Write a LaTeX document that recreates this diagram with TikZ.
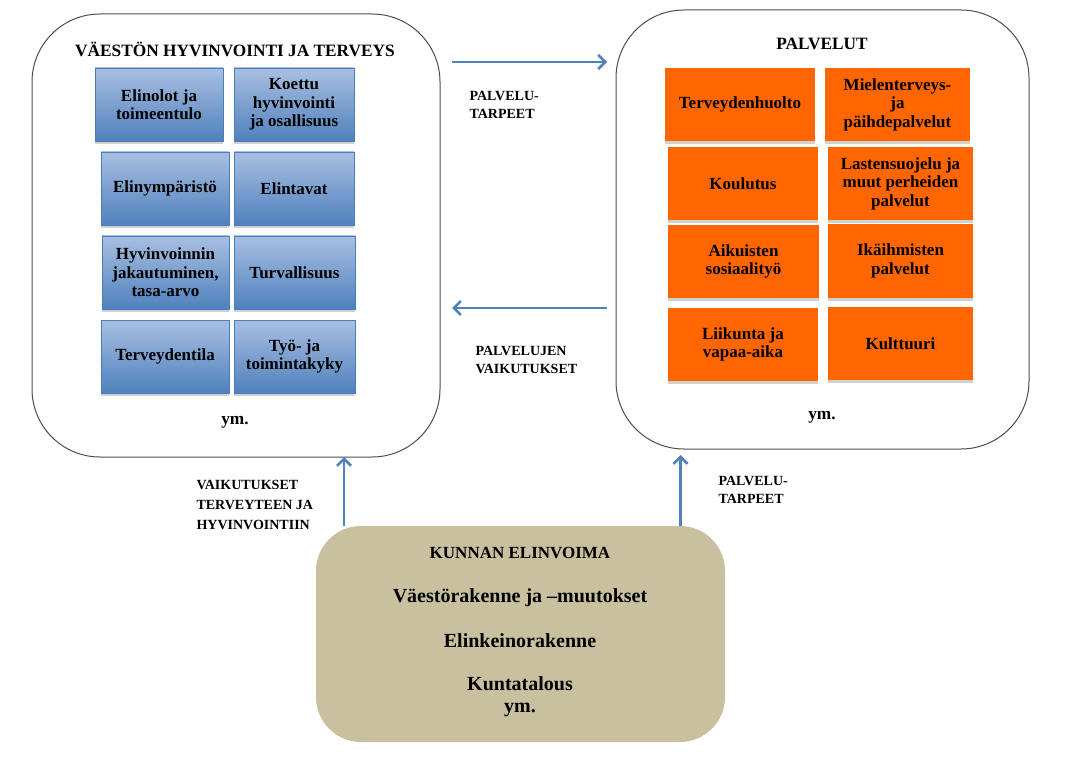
\documentclass[tikz,border=0pt]{standalone}
\usepackage{fontspec}
\setmainfont{Liberation Serif}
\usetikzlibrary{arrows.meta, positioning, shadows}
\definecolor{panelline}{HTML}{4D4D4D}
\definecolor{wellline}{HTML}{4A7EBB}
\definecolor{welltop}{HTML}{A9BFE1}
\definecolor{wellbot}{HTML}{4F81BD}
\definecolor{servcolor}{HTML}{FF6600}
\definecolor{vitcolor}{HTML}{C8C09E}
\definecolor{flowcolor}{HTML}{4F81BD}
\newcommand{\boxfont}{\bfseries\fontsize{17}{18.5}\selectfont}
\newcommand{\lblfont}{\bfseries\fontsize{14}{18}\selectfont}

\begin{document}
\begin{tikzpicture}[x=1pt, y=-1pt,
    panel/.style={draw=panelline, line width=1pt, rounded corners=68pt, inner sep=0pt, outer sep=0pt},
    wellbox/.style={draw=wellline, line width=0.8pt, top color=welltop, bottom color=wellbot,
        align=center, font=\boxfont, minimum height=73pt, inner sep=2pt,
        drop shadow={shadow xshift=0pt, shadow yshift=-3pt, fill=black!18, opacity=1}},
    servbox/.style={fill=servcolor, align=center, font=\boxfont, minimum height=73pt, inner sep=2pt,
        drop shadow={shadow xshift=0pt, shadow yshift=-3pt, fill=black!18, opacity=1}},
    title/.style={font=\bfseries\fontsize{17.3}{19}\selectfont},
    lbl/.style={font=\lblfont, align=left, anchor=west},
    vitline/.style={font=\bfseries\fontsize{20}{22}\selectfont, align=center},
    flow/.style={draw=flowcolor, line width=2.6pt, -{Straight Barb[length=7pt, width=14pt]}}
]
    \useasboundingbox[fill=white] (0,0) rectangle (1067,759);

    % --- panels ---
    \node[panel, minimum width=408pt, minimum height=443pt] (wellbeing) at (236,235.5) {};
    \node[panel, minimum width=413pt, minimum height=439pt] (services) at (822.5,229.5) {};
    \node[fill=vitcolor, rounded corners=45pt, minimum width=409pt, minimum height=216pt,
          inner sep=0pt, outer sep=0pt] (vitality) at (520.5,634) {};

    % --- hyvinvointi ja terveys ---
    \node[title] (welltitle) at (235,49) {VÄESTÖN HYVINVOINTI JA TERVEYS};
    \node[wellbox, minimum width=128pt] (elinolot) at (159,104.5) {Elinolot ja\\toimeentulo};
    \node[wellbox, minimum width=120pt] (koettu) at (294,104.5) {Koettu\\hyvinvointi\\ja osallisuus};
    \node[wellbox, minimum width=128pt] (ymparisto) at (165,188.5) {Elinympäristö};
    \node[wellbox, minimum width=120pt] (elintavat) at (294,188.5) {Elintavat};
    \node[wellbox, minimum width=127pt] (jakautuminen) at (165.5,272.5) {Hyvinvoinnin\\jakautuminen,\\tasa-arvo};
    \node[wellbox, minimum width=121pt] (turvallisuus) at (294.5,272.5) {Turvallisuus};
    \node[wellbox, minimum width=128pt] (terveydentila) at (165,356.5) {Terveydentila};
    \node[wellbox, minimum width=121pt] (toimintakyky) at (294.5,356.5) {Työ- ja\\toimintakyky};
    \node[title] (wellym) at (235,422) {ym.};

    % --- palvelut ---
    \node[title] (servtitle) at (822,44) {PALVELUT};
    \node[servbox, minimum width=150pt] (terveydenhuolto) at (740,104.5) {Terveydenhuolto};
    \node[servbox, minimum width=145pt] (mielenterveys) at (897.5,104.5) {Mielenterveys-\\ja\\päihdepalvelut};
    \node[servbox, minimum width=150pt] (koulutus) at (743,183.5) {Koulutus};
    \node[servbox, minimum width=145pt] (lastensuojelu) at (900.5,183.5) {Lastensuojelu ja\\muut perheiden\\palvelut};
    \node[servbox, minimum width=151pt] (aikuiset) at (743.5,261.5) {Aikuisten\\sosiaalityö};
    \node[servbox, minimum width=145pt] (ikaihmiset) at (900.5,261) {Ikäihmisten\\palvelut};
    \node[servbox, minimum width=150pt] (liikunta) at (743,344.5) {Liikunta ja\\vapaa-aika};
    \node[servbox, minimum width=145pt] (kulttuuri) at (900.5,343.5) {Kulttuuri};
    \node[title] (servym) at (822,417) {ym.};

    % --- kunnan elinvoima ---
    \node[font=\bfseries\fontsize{17}{19}\selectfont] (vittitle) at (520,553) {KUNNAN ELINVOIMA};
    \node[vitline] (vaesto) at (520,598) {Väestörakenne ja –muutokset};
    \node[vitline] (elinkeino) at (520,641) {Elinkeinorakenne};
    \node[vitline] (talous) at (520,697) {Kuntatalous\\ym.};

    % --- connectors ---
    \draw[flow] ([xshift=12pt, yshift=173.5pt]wellbeing.east) -- ([xshift=-9pt, yshift=167.5pt]services.west);
    \draw[flow] ([xshift=-9pt, yshift=-78.5pt]services.west) -- ([xshift=12pt, yshift=-72.5pt]wellbeing.east);
    \draw[flow] ([xshift=-176.5pt]vitality.north) -- ([xshift=-176.5pt]vitality.north |- wellbeing.south);
    \draw[flow, shorten >=6pt] ([xshift=160pt]vitality.north) -- ([xshift=160pt]vitality.north |- services.south);

    % --- connector labels ---
    \node[lbl] (needs1) at (466,104.5) {PALVELU-\\TARPEET};
    \node[lbl] (effects) at (472,360) {PALVELUJEN\\VAIKUTUKSET};
    \node[lbl, font=\bfseries\fontsize{14}{20}\selectfont] (health) at (193,505) {VAIKUTUKSET\\TERVEYTEEN JA\\HYVINVOINTIIN};
    \node[lbl] (needs2) at (715,490) {PALVELU-\\TARPEET};
\end{tikzpicture}
\end{document}
